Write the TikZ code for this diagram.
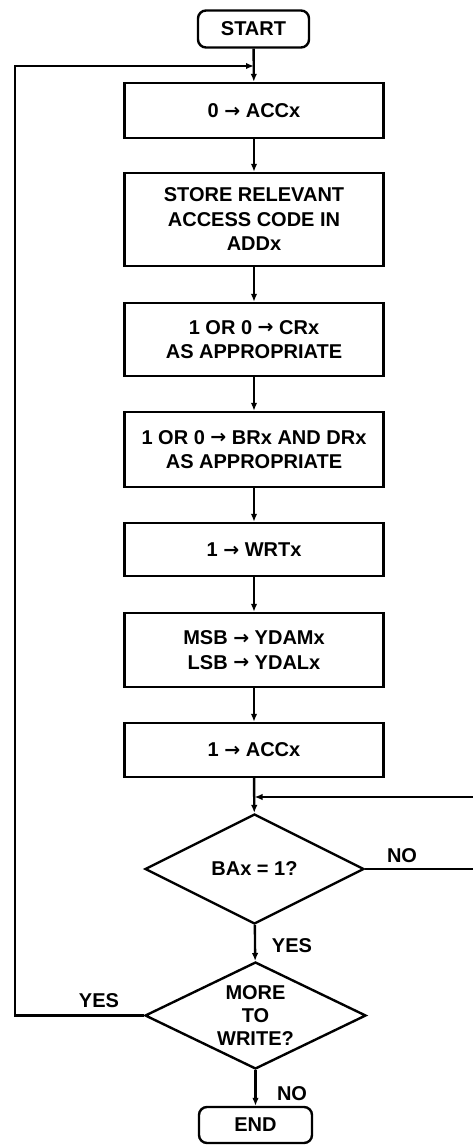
\documentclass[tikz,border=0pt]{standalone}
\usepackage{fontspec}
\setmainfont{Liberation Sans}
\newfontfamily\arrowfont{DejaVu Sans}
\usetikzlibrary{shapes.geometric,arrows.meta}
\newcommand{\ra}{{\arrowfont\bfseries\fontsize{19pt}{19pt}\selectfont\raisebox{0.3pt}{→}}}
\tikzset{
  txt/.style={font=\bfseries\fontsize{20pt}{24.5pt}\selectfont, align=center},
  stepbox/.style={draw, line width=2.4pt, minimum width=259pt, inner sep=0pt, txt},
  term/.style={draw, line width=2.4pt, rounded corners=8pt, minimum height=37pt, inner sep=0pt, txt},
  decision/.style={draw, diamond, line width=2.4pt, inner sep=0pt},
  flow/.style={line width=2.4pt, -{Latex[length=8pt,width=6.5pt]}},
  lbl/.style={font=\bfseries\fontsize{20pt}{22pt}\selectfont, inner sep=0pt},
}
\begin{document}
\begin{tikzpicture}[x=1pt,y=1pt]
\clip (0,0) rectangle (473,-1145);
\fill[white] (0,0) rectangle (473,-1145);

% terminals and process steps
\node[term, minimum width=111pt] (start) at (253.5,-29) {START};
\node[stepbox, minimum height=55pt] (b1) at (254,-110.5) {0 \ra{} ACCx};
\node[stepbox, minimum height=93pt] (b2) at (254,-219.5) {STORE RELEVANT\\ACCESS CODE IN\\ADDx};
\node[stepbox, minimum height=73pt] (b3) at (254,-339.5) {1 OR 0 \ra{} CRx\\AS APPROPRIATE};
\node[stepbox, minimum height=75pt] (b4) at (254,-449.5) {1 OR 0 \ra{} BRx AND DRx\\AS APPROPRIATE};
\node[stepbox, minimum height=53pt] (b5) at (254,-549.5) {1 \ra{} WRTx};
\node[stepbox, minimum height=74pt] (b6) at (254,-650) {MSB \ra{} YDAMx\\LSB \ra{} YDALx};
\node[stepbox, minimum height=54pt] (b7) at (254,-750) {1 \ra{} ACCx};

% decisions
\node[decision, minimum width=219pt, minimum height=110pt] (d1) at (254.5,-869) {};
\node[txt] at (d1) {BAx = 1?};
\node[decision, minimum width=221pt, minimum height=107pt] (d2) at (255.5,-1015.5) {};
\node[txt, font=\bfseries\fontsize{20pt}{23pt}\selectfont] at (d2) {MORE\\TO\\WRITE?};

\node[term, minimum width=113pt, minimum height=36pt] (end) at (255.5,-1125) {END};

% junctions of the two loops
\coordinate (jtop) at (254,-66);
\coordinate (ltop) at (15,-66);
\coordinate (lbot) at (15,-1015.5);
\coordinate (jright) at (254.5,-797);
\coordinate (rtop) at (490,-797);
\coordinate (rbot) at (490,-869);

% main flow
\draw[flow] (start) -- (b1);
\draw[flow] (b1) -- (b2);
\draw[flow] (b2) -- (b3);
\draw[flow] (b3) -- (b4);
\draw[flow] (b4) -- (b5);
\draw[flow] (b5) -- (b6);
\draw[flow] (b6) -- (b7);
\draw[flow] (b7) -- (d1);
\draw[flow] (d1) -- (d2);
\draw[flow] (d2) -- (end);

% loops
\draw[flow] (d1.east) -- (rbot) -- (rtop) -- (jright);
\draw[flow] (d2.west) -- (lbot) -- (ltop) -- (jtop);

% branch labels
\node[lbl] (no1) at (402,-856) {NO};
\node[lbl] (yes1) at (292,-946) {YES};
\node[lbl] (yes2) at (99,-1000.5) {YES};
\node[lbl] (no2) at (292,-1093.5) {NO};
\end{tikzpicture}
\end{document}
